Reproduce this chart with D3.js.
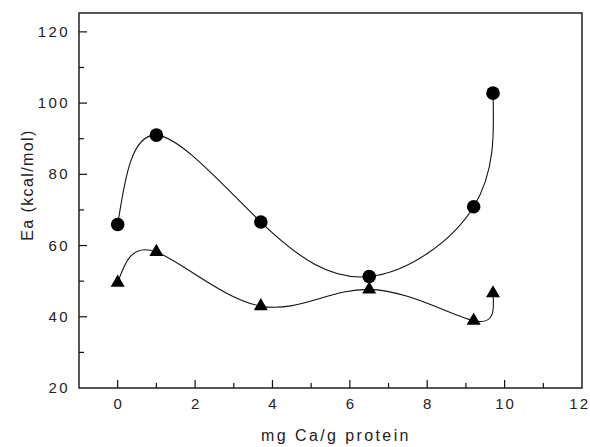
<!DOCTYPE html>
<html>
<head>
<meta charset="utf-8">
<script src="https://cdn.jsdelivr.net/npm/d3@7"></script>
<style>
  html, body { margin: 0; padding: 0; background: #fff; }
  svg { display: block; }
  text { font-family: "Liberation Sans", Arial, sans-serif; fill: #222; }
</style>
</head>
<body>
<svg id="chart" width="590" height="447"></svg>
<script>
// Calcium content (mg Ca / g protein)
const calcium = [0, 1, 3.7, 6.5, 9.2, 9.7];
// Activation energy, kcal/mol — upper series (circles)
const eaCircles = [65.9, 91.0, 66.6, 51.3, 70.9, 102.8];
// Activation energy, kcal/mol — lower series (triangles)
const eaTriangles = [49.6, 58.2, 43.0, 47.7, 38.9, 46.6];

const xTicks = [0, 2, 4, 6, 8, 10, 12];
const yTicks = [20, 40, 60, 80, 100, 120];

const svg = d3.select("#chart");
const W = 590;
const plotL = 79, plotR = 582, plotT = 13, plotB = 388;

const x = d3.scaleLinear().domain([-1, 12]).range([plotL, plotR]);
const y = d3.scaleLinear().domain([20, 125.3]).range([plotB, plotT]);

const g = svg.append("g");

// frame
g.append("rect")
  .attr("x", plotL).attr("y", plotT)
  .attr("width", plotR - plotL).attr("height", plotB - plotT)
  .attr("fill", "none").attr("stroke", "#111").attr("stroke-width", 1.4);

// bottom ticks (inward), majors labelled
const xMinor = [1, 3, 5, 7, 9, 11];
g.selectAll(".xmaj").data(xTicks.filter(v => v < 12)).join("line")
  .attr("x1", d => x(d)).attr("x2", d => x(d))
  .attr("y1", plotB).attr("y2", plotB - 8)
  .attr("stroke", "#111").attr("stroke-width", 1.2);
g.selectAll(".xmin").data(xMinor).join("line")
  .attr("x1", d => x(d)).attr("x2", d => x(d))
  .attr("y1", plotB).attr("y2", plotB - 5)
  .attr("stroke", "#111").attr("stroke-width", 1.2);
g.selectAll(".xlab").data(xTicks).join("text")
  .attr("y", plotB + 21)
  .attr("text-anchor", "start").attr("font-size", 15)
  .attr("letter-spacing", 2)
  .text(d => d)
  .each(function(d) {
    // centre on the tick, but keep the last label inside the page
    const w = this.getComputedTextLength() - 2;
    let left = x(d) - w / 2;
    if (left + w > W - 2) left = W - 2 - w;
    d3.select(this).attr("x", left);
  });

// left ticks (inward)
const yMinor = [30, 50, 70, 90, 110];
g.selectAll(".ymaj").data(yTicks.filter(v => v > 20)).join("line")
  .attr("x1", plotL).attr("x2", plotL + 8)
  .attr("y1", d => y(d)).attr("y2", d => y(d))
  .attr("stroke", "#111").attr("stroke-width", 1.2);
g.selectAll(".ymin").data(yMinor).join("line")
  .attr("x1", plotL).attr("x2", plotL + 5)
  .attr("y1", d => y(d)).attr("y2", d => y(d))
  .attr("stroke", "#111").attr("stroke-width", 1.2);
g.selectAll(".ylab").data(yTicks).join("text")
  .attr("x", plotL - 9).attr("y", d => y(d) + 5)
  .attr("text-anchor", "end").attr("font-size", 15)
  .attr("letter-spacing", 2.4)
  .text(d => d);

// axis titles
g.append("text")
  .attr("x", 336).attr("y", 441)
  .attr("text-anchor", "middle").attr("font-size", 16)
  .attr("letter-spacing", 2.4)
  .text("mg Ca/g protein");
g.append("text")
  .attr("transform", "translate(33,185) rotate(-90)")
  .attr("text-anchor", "middle").attr("font-size", 16)
  .attr("letter-spacing", 1.4)
  .text("Ea (kcal/mol)");

// smooth curves through each series
const line = d3.line()
  .x(d => x(d[0])).y(d => y(d[1]))
  .curve(d3.curveNatural);

const circlePts = calcium.map((c, i) => [c, eaCircles[i]]);
const trianglePts = calcium.map((c, i) => [c, eaTriangles[i]]);

g.append("path").attr("d", line(circlePts))
  .attr("fill", "none").attr("stroke", "#111").attr("stroke-width", 1.1);
g.append("path").attr("d", line(trianglePts))
  .attr("fill", "none").attr("stroke", "#111").attr("stroke-width", 1.1);

// markers
g.selectAll(".circ").data(circlePts).join("circle")
  .attr("cx", d => x(d[0])).attr("cy", d => y(d[1]))
  .attr("r", 6.8).attr("fill", "#000");

const tri = d3.symbol().type(d3.symbolTriangle).size(85);
g.selectAll(".tri").data(trianglePts).join("path")
  .attr("d", tri)
  .attr("transform", d => `translate(${x(d[0])},${y(d[1])})`)
  .attr("fill", "#000");
</script>
</body>
</html>
